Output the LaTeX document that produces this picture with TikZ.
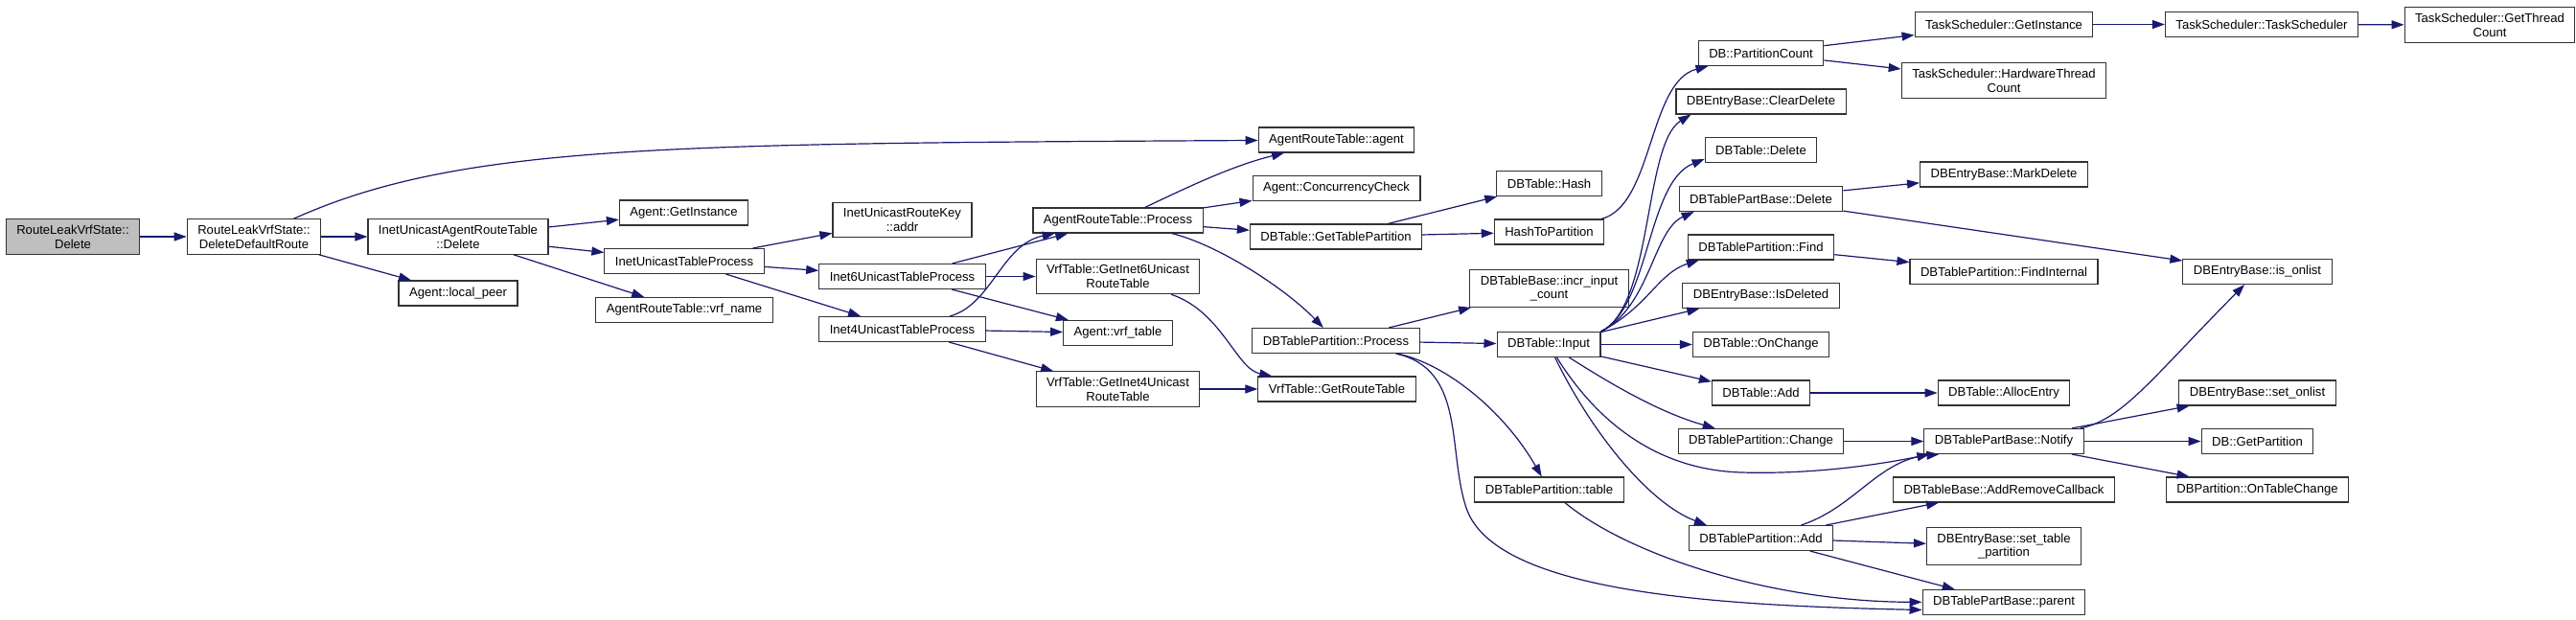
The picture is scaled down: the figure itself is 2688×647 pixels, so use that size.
\documentclass[tikz,border=0pt]{standalone}
\usepackage{fontspec}
\usepackage{xcolor}
\usetikzlibrary{arrows.meta}
\newfontfamily\dxsans{Liberation Sans}
\definecolor{edgeblue}{HTML}{191970}
\definecolor{rootgrey}{HTML}{BFBFBF}

\begin{document}
\begin{tikzpicture}[
    x=1pt, y=-1pt,
    >={Triangle[length=13pt,width=9pt]},
    callnode/.style={draw=black!80, line width=1.1pt, fill=white, align=center,
        inner xsep=11pt, inner ysep=6pt, minimum height=26pt,
        font={\dxsans\fontsize{13.1pt}{14.7pt}\selectfont}},
    callroot/.style={callnode, fill=rootgrey},
    callarrow/.style={->, draw=edgeblue, line width=1.2pt}
]
\path[use as bounding box, fill=white] (0,0) rectangle (2688,647);

% --- Agent side ---
\node[callroot] (rlvsdel)     at (76,247)     {RouteLeakVrfState::\\Delete};
\node[callnode] (deldefroute) at (265,247)    {RouteLeakVrfState::\\DeleteDefaultRoute};
\node[callnode] (inetdel)     at (478,247)    {InetUnicastAgentRouteTable\\::Delete};
\node[callnode] (localpeer)   at (478,306)    {Agent::local\_peer};
\node[callnode] (getinst)     at (713.5,222)  {Agent::GetInstance};
\node[callnode] (inetproc)    at (714,272.5)  {InetUnicastTableProcess};
\node[callnode] (vrfname)     at (714,323.5)  {AgentRouteTable::vrf\_name};
\node[callnode] (keyaddr)     at (941.5,229.5) {InetUnicastRouteKey\\::addr};
\node[callnode] (inet6proc)   at (941.5,288.5) {Inet6UnicastTableProcess};
\node[callnode] (inet4proc)   at (941.5,343.5) {Inet4UnicastTableProcess};
\node[callnode] (artproc)     at (1166.5,230) {AgentRouteTable::Process};
\node[callnode] (getinet6)    at (1166.5,288.5) {VrfTable::GetInet6Unicast\\RouteTable};
\node[callnode] (vrftable)    at (1166.5,347.5) {Agent::vrf\_table};
\node[callnode] (getinet4)    at (1166.5,406) {VrfTable::GetInet4Unicast\\RouteTable};
\node[callnode] (artagent)    at (1394.5,146) {AgentRouteTable::agent};
\node[callnode] (conccheck)   at (1394.5,196.5) {Agent::ConcurrencyCheck};
\node[callnode] (gettblpart)  at (1394,247)   {DBTable::GetTablePartition};
\node[callnode] (partproc)    at (1394,355.5) {DBTablePartition::Process};
\node[callnode] (getroutetbl) at (1395,406)   {VrfTable::GetRouteTable};

% --- DB side ---
\node[callnode] (tblhash)     at (1616.5,191.5) {DBTable::Hash};
\node[callnode] (hashtopart)  at (1616.5,242) {HashToPartition};
\node[callnode] (incrcount)   at (1616.5,301) {DBTableBase::incr\_input\\\_count};
\node[callnode] (tblinput)    at (1616,359.5) {DBTable::Input};
\node[callnode] (parttable)   at (1616.5,511) {DBTablePartition::table};
\node[callnode] (partcount)   at (1837.5,55.5) {DB::PartitionCount};
\node[callnode] (cleardel)    at (1837.5,106) {DBEntryBase::ClearDelete};
\node[callnode] (tbldel)      at (1837.5,156.5) {DBTable::Delete};
\node[callnode] (pbdel)       at (1837.5,207.5) {DBTablePartBase::Delete};
\node[callnode] (partfind)    at (1837.5,258) {DBTablePartition::Find};
\node[callnode] (isdeleted)   at (1837.5,308.5) {DBEntryBase::IsDeleted};
\node[callnode] (onchange)    at (1837.5,359.5) {DBTable::OnChange};
\node[callnode] (tbladd)      at (1837.5,410) {DBTable::Add};
\node[callnode] (partchange)  at (1837.5,460.5) {DBTablePartition::Change};
\node[callnode] (partadd)     at (1837.5,561.5) {DBTablePartition::Add};
\node[callnode] (tsinst)      at (2091,25.5)  {TaskScheduler::GetInstance};
\node[callnode] (hwthreads)   at (2091,84)    {TaskScheduler::HardwareThread\\Count};
\node[callnode] (markdel)     at (2091,182)   {DBEntryBase::MarkDelete};
\node[callnode] (findint)     at (2091,283.5) {DBTablePartition::FindInternal};
\node[callnode] (allocentry)  at (2091,410)   {DBTable::AllocEntry};
\node[callnode] (pbnotify)    at (2091,460.5) {DBTablePartBase::Notify};
\node[callnode] (addremcb)    at (2091,511)   {DBTableBase::AddRemoveCallback};
\node[callnode] (settblpart)  at (2091,570)   {DBEntryBase::set\_table\\\_partition};
\node[callnode] (pbparent)    at (2091,628.5) {DBTablePartBase::parent};
\node[callnode] (tsctor)      at (2360,25.5)  {TaskScheduler::TaskScheduler};
\node[callnode] (isonlist)    at (2355.5,283.5) {DBEntryBase::is\_onlist};
\node[callnode] (setonlist)   at (2355.5,410) {DBEntryBase::set\_onlist};
\node[callnode] (getpart)     at (2355.5,460.5) {DB::GetPartition};
\node[callnode] (ontblchange) at (2355.5,511) {DBPartition::OnTableChange};
\node[callnode] (threadcount) at (2598,26)    {TaskScheduler::GetThread\\Count};

% --- Agent calls ---
\draw[callarrow] (rlvsdel) -- (deldefroute);
\draw[callarrow] (deldefroute) -- (inetdel);
\draw[callarrow] (deldefroute) -- (localpeer);
\draw[callarrow] (deldefroute) .. controls (480,150) and (700,150) .. (artagent);
\draw[callarrow] (inetdel) -- (getinst);
\draw[callarrow] (inetdel) -- (inetproc);
\draw[callarrow] (inetdel) -- (vrfname);
\draw[callarrow] (inetproc) -- (keyaddr);
\draw[callarrow] (inetproc) -- (inet6proc);
\draw[callarrow] (inetproc) -- (inet4proc);
\draw[callarrow] (inet6proc) -- (artproc);
\draw[callarrow] (inet6proc) -- (getinet6);
\draw[callarrow] (inet6proc) -- (vrftable);
\draw[callarrow] (inet4proc) .. controls (1035,318) and (1045,255) .. (artproc);
\draw[callarrow] (inet4proc) -- (vrftable);
\draw[callarrow] (inet4proc) -- (getinet4);
\draw[callarrow] (getinet6) .. controls (1275,325) and (1290,385) .. (getroutetbl);
\draw[callarrow] (getinet4) -- (getroutetbl);
\draw[callarrow] (artproc) .. controls (1250,190) and (1290,172) .. (artagent);
\draw[callarrow] (artproc) -- (conccheck);
\draw[callarrow] (artproc) -- (gettblpart);
\draw[callarrow] (artproc) .. controls (1270,255) and (1340,300) .. (partproc);

% --- DB calls ---
\draw[callarrow] (gettblpart) -- (tblhash);
\draw[callarrow] (gettblpart) -- (hashtopart);
\draw[callarrow] (hashtopart) .. controls (1725,215) and (1720,85) .. ([xshift=-55pt]partcount.south);
\draw[callarrow] (partproc) -- (incrcount);
\draw[callarrow] (partproc) -- (tblinput);
\draw[callarrow] (partproc) .. controls (1510,380) and (1570,430) .. (parttable);
\draw[callarrow] (partproc) .. controls (1530,385) and (1510,470) .. (1530,530)
    .. controls (1560,620) and (1800,632) .. ([yshift=-8pt]pbparent.west);
\draw[callarrow] (parttable) .. controls (1700,580) and (1850,628) .. (pbparent);

\draw[callarrow] (tblinput.north east) .. controls (1725,320) and (1715,150) .. ([xshift=16pt]cleardel.south west);
\draw[callarrow] (tblinput.north east) .. controls (1722,320) and (1718,190) .. ([yshift=4pt]tbldel.south west);
\draw[callarrow] (tblinput.north east) .. controls (1722,320) and (1725,240) .. ([xshift=16pt]pbdel.south west);
\draw[callarrow] (tblinput.north east) .. controls (1720,320) and (1730,285) .. ([xshift=12pt]partfind.south west);
\draw[callarrow] (tblinput) -- ([xshift=18pt]isdeleted.south west);
\draw[callarrow] (tblinput) -- (onchange);
\draw[callarrow] (tblinput) -- (tbladd);
\draw[callarrow] (tblinput) .. controls (1680,400) and (1730,430) .. (partchange);
\draw[callarrow] (tblinput) .. controls (1660,430) and (1720,490) .. (1817,493)
    .. controls (1900,495.5) and (1975,482) .. ([xshift=6pt]pbnotify.south west);
\draw[callarrow] (tblinput) .. controls (1660,450) and (1720,525) .. ([xshift=19pt]partadd.north west);

\draw[callarrow] (partcount) -- (tsinst);
\draw[callarrow] (partcount) -- (hwthreads);
\draw[callarrow] (tsinst) -- (tsctor);
\draw[callarrow] (tsctor) -- (threadcount);
\draw[callarrow] (pbdel) -- (markdel);
\draw[callarrow] (pbdel) -- (isonlist);
\draw[callarrow] (partfind) -- (findint);
\draw[callarrow] (tbladd) -- (allocentry);
\draw[callarrow] (partchange) -- (pbnotify);
\draw[callarrow] (partadd) .. controls (1935,530) and (1960,480) .. ([xshift=16pt]pbnotify.south west);
\draw[callarrow] (partadd) -- (addremcb);
\draw[callarrow] (partadd) -- (settblpart);
\draw[callarrow] (partadd) -- (pbparent);
\draw[callarrow] ([xshift=-4pt]pbnotify.north east) .. controls (2215,438) and (2245,395) .. (isonlist);
\draw[callarrow] (pbnotify) -- (setonlist);
\draw[callarrow] (pbnotify) -- (getpart);
\draw[callarrow] (pbnotify) -- (ontblchange);

\end{tikzpicture}
\end{document}
